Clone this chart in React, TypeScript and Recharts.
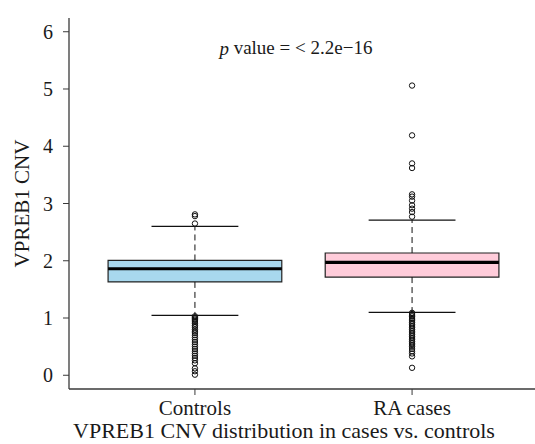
import React from 'react';
import {
  ComposedChart,
  XAxis,
  YAxis,
  Scatter,
  ReferenceArea,
  ReferenceLine,
  ReferenceDot,
} from 'recharts';

const categories = ['Controls', 'RA cases'];
const positions = [1, 2];
const q1 = [1.63, 1.715];
const medians = [1.86, 1.97];
const q3 = [2.005, 2.135];
const lowerWhisker = [1.047, 1.1];
const upperWhisker = [2.6, 2.71];
const controlsOutliers = [
  2.81, 2.78, 2.65,
  1.03, 1.01, 0.99, 0.97, 0.95, 0.93, 0.9, 0.87, 0.84, 0.8, 0.77, 0.74, 0.7,
  0.66, 0.62, 0.58, 0.54, 0.5, 0.46, 0.42, 0.38, 0.34, 0.3, 0.26, 0.21, 0.12,
  0.07, 0.01,
];
const raOutliers = [
  5.06, 4.19, 3.7, 3.62, 3.16, 3.12, 3.05, 2.97, 2.91, 2.85, 2.77,
  1.09, 1.07, 1.05, 1.03, 1.0, 0.98, 0.95, 0.92, 0.89, 0.86, 0.83, 0.8, 0.77,
  0.74, 0.71, 0.68, 0.65, 0.62, 0.59, 0.56, 0.53, 0.5, 0.46, 0.42, 0.38, 0.33,
  0.13,
];
const yTicks = [0, 1, 2, 3, 4, 5, 6];
const boxColors = ['#A8D8EE', '#FFCCDA'];
const pValueText = ' value = < 2.2e\u221216';
const pValuePos = { x: 1.465, y: 5.72 };
const xTitleText = 'VPREB1 CNV distribution in cases vs. controls';
const yTitleText = 'VPREB1 CNV';

const FONT = 'Liberation Serif, Times New Roman, serif';
const AXIS_COLOR = '#3a3a3a';

const outlierSets = [controlsOutliers, raOutliers].map((vals, i) =>
  vals.map((v) => ({ x: positions[i], y: v }))
);

const OutlierShape = (props: any) => {
  const { cx, cy } = props;
  if (cx == null || cy == null) return null;
  return <circle cx={cx} cy={cy} r={2.7} fill="none" stroke="#111" strokeWidth={1} />;
};

const PLabel = (props: any) => {
  const vb = props.viewBox || {};
  const x = (vb.x ?? 0) + (vb.width ?? 0) / 2;
  const y = (vb.y ?? 0) + (vb.height ?? 0) / 2;
  return (
    <text x={x} y={y} textAnchor="middle" dominantBaseline="central" fontFamily={FONT} fontSize={19} fill="#1a1a1a">
      <tspan fontStyle="italic">p</tspan>
      {pValueText}
    </text>
  );
};

const XTitle = (props: any) => {
  const vb = props.viewBox || {};
  return (
    <text x={284} y={(vb.y ?? 0) + 49} textAnchor="middle" fontFamily={FONT} fontSize={22} fill="#1a1a1a">
      {xTitleText}
    </text>
  );
};

const YTitle = (props: any) => {
  const vb = props.viewBox || {};
  const x = 21.5;
  const y = (vb.y ?? 0) + (vb.height ?? 0) / 2;
  return (
    <text x={x} y={y} transform={`rotate(-90, ${x}, ${y})`} textAnchor="middle" dominantBaseline="central" fontFamily={FONT} fontSize={21} fill="#1a1a1a">
      {yTitleText}
    </text>
  );
};

export default function App() {
  return (
    <div style={{ position: 'absolute', left: 0, top: 0, width: 535, height: 444, overflow: 'hidden', background: '#fff' }}>
      <ComposedChart width={540} height={444} margin={{ top: 18, right: 2, bottom: 0, left: 0 }}>
        <XAxis
          xAxisId="bottom"
          type="number"
          dataKey="x"
          domain={[0.42, 2.58]}
          ticks={positions}
          tickFormatter={(v: number) => categories[Math.round(v) - 1] ?? ''}
          height={55}
          tickSize={6}
          tickMargin={5}
          axisLine={{ stroke: AXIS_COLOR, strokeWidth: 1.3 }}
          tickLine={{ stroke: AXIS_COLOR, strokeWidth: 1 }}
          tick={{ fontFamily: FONT, fontSize: 21, fill: '#1a1a1a' }}
          allowDataOverflow
          label={<XTitle />}
        />
        <XAxis
          xAxisId="top"
          orientation="top"
          type="number"
          dataKey="x"
          domain={[0.42, 2.58]}
          height={0}
          tick={false}
          tickLine={false}
          axisLine={{ stroke: AXIS_COLOR, strokeWidth: 1.3 }}
          allowDataOverflow
        />
        <YAxis
          type="number"
          domain={[-0.24, 6.24]}
          ticks={yTicks}
          width={69}
          tickSize={6}
          tickMargin={10}
          axisLine={{ stroke: AXIS_COLOR, strokeWidth: 1.3 }}
          tickLine={{ stroke: AXIS_COLOR, strokeWidth: 1 }}
          tick={{ fontFamily: FONT, fontSize: 20, fill: '#1a1a1a' }}
          allowDataOverflow
          label={<YTitle />}
        />
        {positions.map((p, i) => (
          <ReferenceArea
            key={`box-${i}`}
            xAxisId="bottom"
            x1={p - 0.4}
            x2={p + 0.4}
            y1={q1[i]}
            y2={q3[i]}
            fill={boxColors[i]}
            fillOpacity={1}
            stroke="#222"
            strokeWidth={1.2}
          />
        ))}
        {positions.map((p, i) => (
          <ReferenceLine
            key={`wu-${i}`}
            xAxisId="bottom"
            segment={[{ x: p, y: q3[i] }, { x: p, y: upperWhisker[i] }]}
            stroke="#111"
            strokeWidth={1}
            strokeDasharray="6 4"
          />
        ))}
        {positions.map((p, i) => (
          <ReferenceLine
            key={`wl-${i}`}
            xAxisId="bottom"
            segment={[{ x: p, y: q1[i] }, { x: p, y: lowerWhisker[i] }]}
            stroke="#111"
            strokeWidth={1}
            strokeDasharray="6 4"
          />
        ))}
        {positions.map((p, i) => (
          <ReferenceLine
            key={`cu-${i}`}
            xAxisId="bottom"
            segment={[{ x: p - 0.2, y: upperWhisker[i] }, { x: p + 0.2, y: upperWhisker[i] }]}
            stroke="#111"
            strokeWidth={1.2}
          />
        ))}
        {positions.map((p, i) => (
          <ReferenceLine
            key={`cl-${i}`}
            xAxisId="bottom"
            segment={[{ x: p - 0.2, y: lowerWhisker[i] }, { x: p + 0.2, y: lowerWhisker[i] }]}
            stroke="#111"
            strokeWidth={1.2}
          />
        ))}
        {positions.map((p, i) => (
          <ReferenceLine
            key={`med-${i}`}
            xAxisId="bottom"
            segment={[{ x: p - 0.4, y: medians[i] }, { x: p + 0.4, y: medians[i] }]}
            stroke="#000"
            strokeWidth={3.2}
          />
        ))}
        {outlierSets.map((d, i) => (
          <Scatter
            key={`out-${i}`}
            xAxisId="bottom"
            data={d}
            dataKey="y"
            shape={<OutlierShape />}
            isAnimationActive={false}
          />
        ))}
        <ReferenceDot
          xAxisId="bottom"
          x={pValuePos.x}
          y={pValuePos.y}
          r={0}
          fill="none"
          stroke="none"
          label={<PLabel />}
        />
      </ComposedChart>
    </div>
  );
}
